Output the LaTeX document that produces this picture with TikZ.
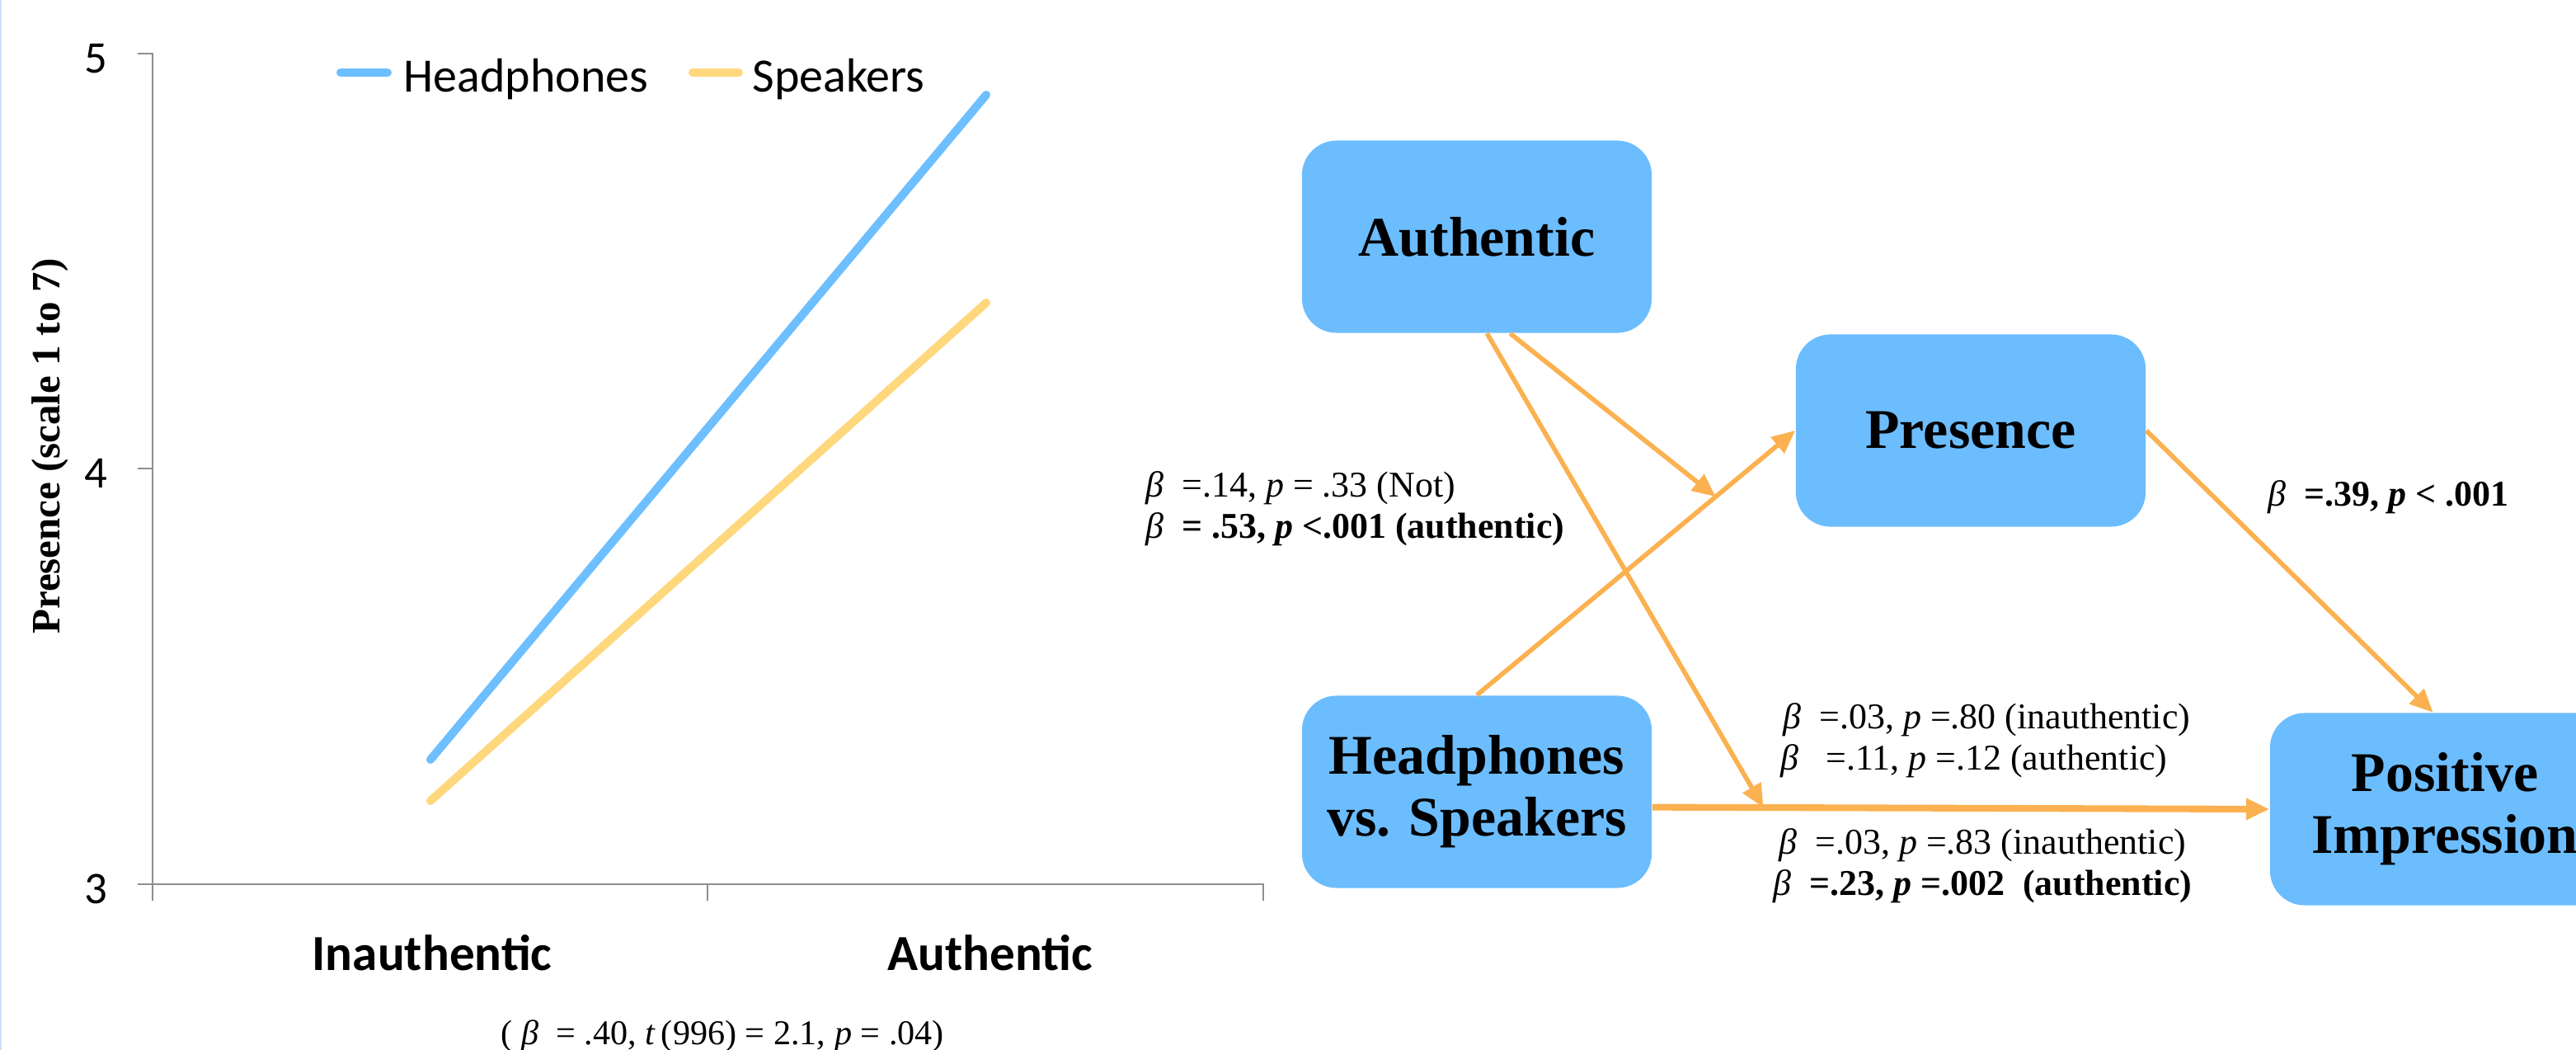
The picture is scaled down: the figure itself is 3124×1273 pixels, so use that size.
\documentclass[tikz,border=0pt]{standalone}
\usepackage{fontspec}
\setmainfont{Liberation Serif}
\newfontfamily\chartfont{Carlito}
\usetikzlibrary{arrows.meta}

\definecolor{boxblue}{HTML}{6CBDFE}
\definecolor{pathorange}{HTML}{FBB150}
\definecolor{hpblue}{HTML}{6DBFFF}
\definecolor{spkyellow}{HTML}{FFD77C}
\definecolor{axisgray}{HTML}{8E8E8E}
\definecolor{edgeblue}{HTML}{CFE0FA}

\newcommand{\boxfont}{\fontsize{19.3}{21.3}\selectfont\bfseries}
\newcommand{\coeffont}{\fontsize{12.5}{14.2}\selectfont}
\newcommand{\coefbeta}{\textnormal{\textit{β}}}

\tikzset{
  box/.style={fill=boxblue, rounded corners=0.42cm, minimum width=4.24cm,
    minimum height=2.33cm, align=center, font=\boxfont},
  effect/.style={draw=pathorange, line width=1.6pt,
    -{Triangle[length=8pt,width=7pt]}},
  coef/.style={anchor=base west, font=\coeffont},
  series/.style={line width=2.85pt, line cap=round},
  axisline/.style={axisgray, line width=0.6pt},
  ticklabel/.style={font=\chartfont\fontsize{15.6}{18}\selectfont},
  legendlabel/.style={anchor=base west, font=\chartfont\fontsize{16.5}{19}\selectfont},
  catlabel/.style={anchor=base, font=\chartfont\fontsize{17.4}{20}\selectfont\bfseries},
}

\begin{document}
\begin{tikzpicture}[x=0.01cm, y=-0.01cm]
  \useasboundingbox (0,0) rectangle (3124,1273);
  \draw[edgeblue, line width=0.6pt] (1,0) -- (1,1273);

  % interaction plot
  \draw[axisline] (167,65) -- (185,65) -- (185,1092);
  \draw[axisline] (167,568) -- (185,568);
  \draw[axisline] (167,1072) -- (1532,1072) -- (1532,1092);
  \draw[axisline] (858,1072) -- (858,1092);
  \foreach \v/\y in {5/65, 4/568, 3/1072}
    \node[ticklabel] (tick\v) at (116,\y+6) {\v};

  \draw[series, hpblue] (522,921) -- (1196,115);
  \draw[series, spkyellow] (522,971) -- (1196,367);

  \draw[series, hpblue] (413,88) -- (470,88);
  \node[legendlabel] (legHead) at (477,112) {Headphones};
  \draw[series, spkyellow] (840,88) -- (896,88);
  \node[legendlabel] (legSpk) at (900,112) {Speakers};

  \node[catlabel] (catInauth) at (524,1176) {Inauthentic};
  \node[catlabel] (catAuth) at (1201,1176) {Authentic};
  \node[rotate=90, anchor=base, font=\fontsize{13.9}{16}\selectfont\bfseries]
    (ylab) at (72,541) {Presence (scale 1 to 7)};
  \node[anchor=base west, font=\fontsize{12}{14}\selectfont] (plotstat) at (595,1266)
    {(\ \textit{β}\ \ = .40, \textit{t}\,(996) = 2.1, \textit{p} = .04)};

  % moderated mediation model
  \node[box] (auth) at (1791,287) {Authentic};
  \node[box] (pres) at (2390,522) {Presence};
  \node[box] (hp) at (1791,960) {Headphones\\vs. Speakers};
  \node[box] (pi) at (2965,981) {Positive\\Impression};

  \draw[effect] (hp.north) -- coordinate[pos=0.75] (hpMid) (pres.west);
  \draw[effect, line width=2.3pt] (hp.-5) -- coordinate[pos=0.18] (hpDirect) (pi.west);
  \draw[effect] (auth.-71) -- (hpMid);
  \draw[effect] (auth.-84) -- (hpDirect);
  \draw[effect] (pres.east) -- (pi.97);

  \node[coef] (coefA1) at (1377,602) {\coefbeta\ \ =.14, \textit{p} = .33 (Not)};
  \node[coef, font=\coeffont\bfseries] (coefA2) at (1377,652)
    {\coefbeta\ \ = .53, \textit{p} <.001 (authentic)};
  \node[coef, font=\coeffont\bfseries] (coefB) at (2738,613)
    {\coefbeta\ \ =.39, \textit{p} < .001};
  \node[coef] (coefC1) at (2150,883) {\coefbeta\ \ =.03, \textit{p} =.80 (inauthentic)};
  \node[coef] (coefC2) at (2147,933) {\coefbeta\ \ \ =.11, \textit{p} =.12 (authentic)};
  \node[coef] (coefD1) at (2145,1035) {\coefbeta\ \ =.03, \textit{p} =.83 (inauthentic)};
  \node[coef, font=\coeffont\bfseries] (coefD2) at (2138,1085)
    {\coefbeta\ \ =.23, \textit{p} =.002\ \ (authentic)};
\end{tikzpicture}
\end{document}
